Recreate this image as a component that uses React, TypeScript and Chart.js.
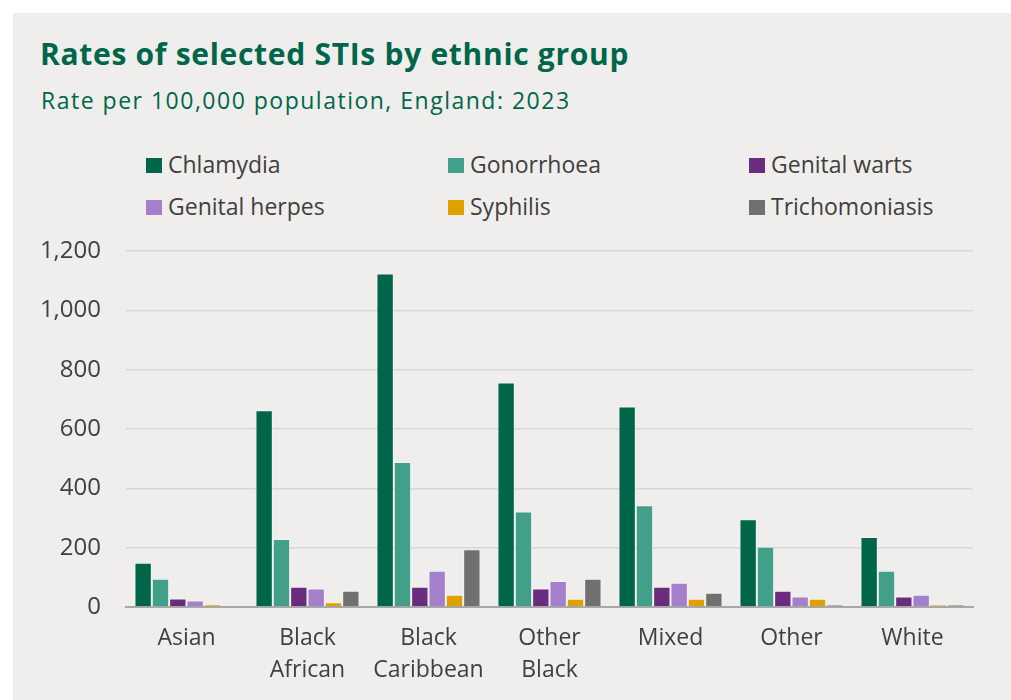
import React, { useEffect, useRef } from "react";
import { Chart, registerables } from "chart.js";

Chart.register(...registerables);

// Ethnic groups (multi-line axis labels)
const ethnicGroups: string[][] = [
  ["Asian"],
  ["Black", "African"],
  ["Black", "Caribbean"],
  ["Other", "Black"],
  ["Mixed"],
  ["Other"],
  ["White"],
];

// Rates per 100,000 population, England 2023
const chlamydia = [149, 663, 1124, 757, 676, 296, 236];
const gonorrhoea = [95, 229, 489, 322, 343, 203, 122];
const genitalWarts = [29, 68, 68, 62, 68, 55, 35];
const genitalHerpes = [22, 62, 122, 88, 82, 35, 41];
const syphilis = [9, 16, 41, 28, 28, 28, 8];
const trichomoniasis = [3, 55, 195, 95, 48, 8, 8];

const seriesNames = [
  "Chlamydia",
  "Gonorrhoea",
  "Genital warts",
  "Genital herpes",
  "Syphilis",
  "Trichomoniasis",
];
const seriesColours = ["#00664a", "#42a08a", "#6a2c7e", "#a47fcb", "#e0a000", "#707070"];
const seriesValues = [chlamydia, gonorrhoea, genitalWarts, genitalHerpes, syphilis, trichomoniasis];

const yMax = 1200;
const yStep = 200;

const GREEN = "#00664a";
const TEXT = "#404040";
const PANEL = "#efeeec";
const SANS = "'Open Sans', 'Noto Sans', sans-serif";

// Legend columns / rows
const legendCols = [146, 448, 749];
const legendRows = [149, 191];

export default function App() {
  const canvasRef = useRef<HTMLCanvasElement | null>(null);

  useEffect(() => {
    document.body.style.margin = "0";
    const canvas = canvasRef.current;
    if (!canvas) return;

    const chart = new Chart(canvas, {
      type: "bar",
      data: {
        labels: ethnicGroups,
        datasets: seriesNames.map((name, i) => ({
          label: name,
          data: seriesValues[i],
          backgroundColor: seriesColours[i],
          borderColor: "rgba(255,255,255,0.35)",
          borderWidth: 1,
          categoryPercentage: 0.86,
          barPercentage: 1,
        })),
      },
      options: {
        responsive: false,
        animation: false,
        layout: { padding: { top: 251, right: 38, left: 0, bottom: 0 } },
        plugins: {
          legend: { display: false },
          tooltip: { enabled: false },
          title: { display: false },
        },
        scales: {
          x: {
            grid: { display: false, drawTicks: false },
            border: { display: true, color: "#a8a8a8", width: 2 },
            ticks: {
              color: TEXT,
              font: { family: SANS, size: 23, lineHeight: 1.39 },
              padding: 15,
              maxRotation: 0,
              autoSkip: false,
            },
            afterFit: (scale: any) => {
              scale.height = 93;
            },
          },
          y: {
            min: 0,
            max: yMax,
            grid: { color: "#dad8d6", lineWidth: 1.5, drawTicks: false },
            border: { display: false },
            ticks: {
              stepSize: yStep,
              color: TEXT,
              padding: 25,
              font: { family: SANS, size: 24 },
              callback: (v: any) => Number(v).toLocaleString("en-GB"),
            },
            afterFit: (scale: any) => {
              scale.width = 126;
            },
          },
        },
      },
    });

    return () => chart.destroy();
  }, []);

  return (
    <div style={{ position: "relative", width: 1011, height: 700, overflow: "hidden", background: "#ffffff" }}>
      <div
        style={{
          position: "absolute",
          left: 13,
          top: 13,
          width: 998,
          height: 687,
          background: PANEL,
        }}
      />
      <div
        style={{
          position: "absolute",
          left: 40,
          top: 34,
          fontFamily: SANS,
          fontWeight: 700,
          fontSize: 30,
          letterSpacing: 0.7,
          lineHeight: "40px",
          color: GREEN,
          whiteSpace: "nowrap",
        }}
      >
        Rates of selected STIs by ethnic group
      </div>
      <div
        style={{
          position: "absolute",
          left: 41,
          top: 85,
          fontFamily: SANS,
          fontSize: 23,
          letterSpacing: 1.5,
          lineHeight: "30px",
          color: GREEN,
          whiteSpace: "nowrap",
        }}
      >
        Rate per 100,000 population, England: 2023
      </div>
      {seriesNames.map((name, i) => (
        <div
          key={name}
          style={{
            position: "absolute",
            left: legendCols[i % 3],
            top: legendRows[Math.floor(i / 3)],
            height: 30,
            display: "flex",
            alignItems: "center",
            fontFamily: SANS,
            fontSize: 23,
            lineHeight: "30px",
            color: TEXT,
            whiteSpace: "nowrap",
          }}
        >
          <span
            style={{
              display: "inline-block",
              width: 16,
              height: 15,
              background: seriesColours[i],
              marginRight: 6,
              marginTop: 2,
            }}
          />
          {name}
        </div>
      ))}
      <canvas
        ref={canvasRef}
        width={1011}
        height={700}
        style={{ position: "absolute", left: 0, top: 0, width: 1011, height: 700 }}
      />
    </div>
  );
}
